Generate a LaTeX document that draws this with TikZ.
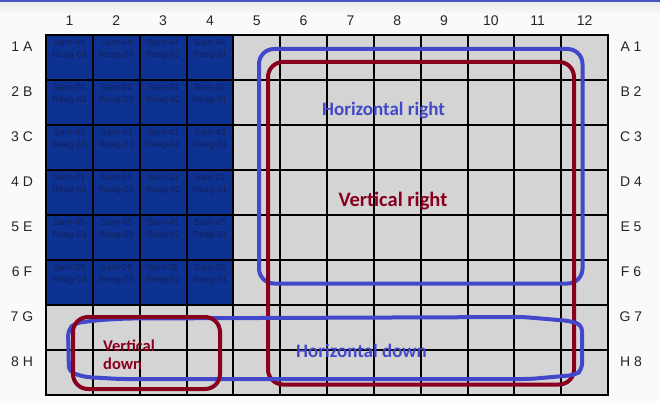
\documentclass[tikz,border=0pt]{standalone}
\usepackage{fontspec}
\setmainfont{Liberation Sans}
\newfontfamily\calfont{Carlito}
\definecolor{bgc}{RGB}{250,250,250}
\definecolor{topblue}{RGB}{70,85,195}
\definecolor{cellgray}{RGB}{212,212,212}
\definecolor{cellblue}{RGB}{13,50,145}
\definecolor{celltxt}{RGB}{22,32,88}
\definecolor{hblue}{RGB}{66,72,202}
\definecolor{vred}{RGB}{136,0,30}
\begin{document}
\begin{tikzpicture}[x=1pt,y=-1pt,
  celltext/.style={font=\fontsize{9}{12}\selectfont, text=celltxt, align=center, inner sep=0pt},
  lbl/.style={font=\fontsize{14}{16}\selectfont, text=black!85, inner sep=0pt},
  hbox/.style={draw=hblue, line width=4pt},
  vbox/.style={draw=vred, line width=4pt},
  htext/.style={font=\calfont\bfseries\fontsize{19}{21}\selectfont, text=hblue, inner sep=0pt},
  vtext/.style={font=\calfont\bfseries\fontsize{20.5}{22}\selectfont, text=vred, inner sep=0pt}]
\useasboundingbox (0,0) rectangle (660,401);
\fill[bgc] (0,0) rectangle (660,401);
\shade[top color=black!8, bottom color=bgc] (0,2) rectangle (660,14);
\fill[topblue] (0,0) rectangle (660,2);
\def\cw{46.8333}
% cells
\fill[cellgray] (46,35) rectangle (608,395);
\fill[cellblue] (46,35) rectangle ({46+4*\cw},305);
\foreach \s [count=\r] in {44,24,43,21,45,26}
  \foreach \g [count=\c] in {63,20,92,61}
    \node[celltext] (s\r c\c) at ({46+(\c-0.5)*\cw},{35+(\r-1)*45+14}) {Sam-\s\\Reag-\g};
% grid
\foreach \k in {0,...,12}
  \draw[line width=2pt] ({46+\k*\cw},35) -- ({46+\k*\cw},395);
\foreach \j in {0,...,8}
  \draw[line width=1.3pt] (45,{35+\j*45}) -- (609,{35+\j*45});
% labels
\foreach \k in {1,...,12}
  \node[lbl] (col\k) at ({46+(\k-0.5)*\cw},21) {\k};
\foreach \L [count=\r] in {A,B,C,D,E,F,G,H} {
  \node[lbl] (left\r) at (22,{35+(\r-1)*45+12}) {\r\ \L};
  \node[lbl] (right\r) at (631,{35+(\r-1)*45+12}) {\L\ \r};
}
% shapes
\draw[hbox, rounded corners=15pt] (259,49) rectangle (582.5,283.5);
\draw[vbox, rounded corners=15pt] (268,62) rectangle (574,384.5);
\draw[hbox, rounded corners=6pt] (127,318.5) -- (523,317) -- (570,321) -- (582,325) -- (582,370) -- (575,375) -- (530,379) -- (120,379) -- (85,377) -- (69,372) -- (68,330) -- (75,323) -- (100,320) -- cycle;
\draw[vbox, rounded corners=15pt] (73,317) rectangle (220,389);
% texts
\node[htext] (hr) at (383.5,110) {Horizontal right};
\node[vtext] (vr) at (393,201) {Vertical right};
\node[htext] (hd) at (361.5,351) {Horizontal down};
\node[vtext, font=\calfont\bfseries\fontsize{16.5}{18.5}\selectfont, align=left, anchor=north west] (vd) at (103,339.5) {Vertical\\down};
\end{tikzpicture}
\end{document}
